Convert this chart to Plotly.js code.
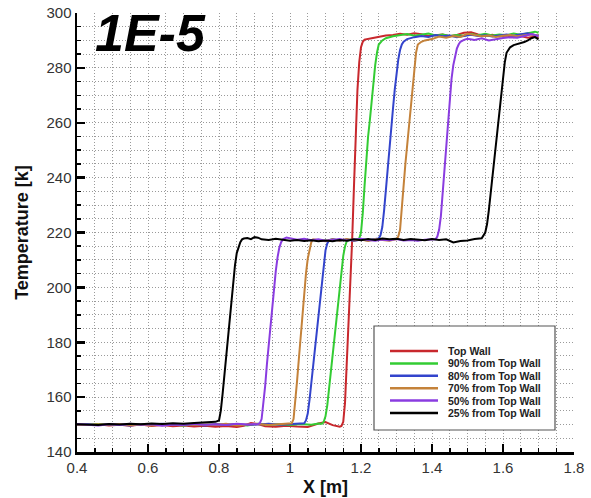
<!DOCTYPE html>
<html>
<head>
<meta charset="utf-8">
<script src="https://cdn.plot.ly/plotly-3.0.1.min.js"></script>
<style>html,body{margin:0;padding:0;background:#fff;}#chart{width:591px;height:498px;}</style>
</head>
<body>
<div id="chart"></div>
<script>
// ---------- DATA ----------
const seriesNames = ['Top Wall','90% from Top Wall','80% from Top Wall','70% from Top Wall','50% from Top Wall','25% from Top Wall'];
const seriesColors = ['#c8282d','#33cc33','#3344cc','#c4823a','#8a3ce0','#000000'];
const xTickVals = [0.4,0.6,0.8,1.0,1.2,1.4,1.6,1.8];
const yTickVals = [140,160,180,200,220,240,260,280,300];

const topWallX = [0.40,0.43,0.46,0.49,0.52,0.55,0.58,0.61,0.64,0.67,0.70,0.73,0.76,0.79,0.82,0.85,0.87,0.89,0.91,0.93,0.96,0.99,1.02,1.05,1.08,1.10,1.12,1.14,1.145,1.15,1.155,1.16,1.165,1.17,1.175,1.18,1.185,1.19,1.195,1.20,1.205,1.21,1.23,1.25,1.27,1.29,1.31,1.33,1.35,1.37,1.39,1.41,1.43,1.45,1.47,1.49,1.51,1.53,1.55,1.57,1.59,1.61,1.63,1.65,1.67,1.69,1.70];
const topWallY = [150.0,149.8,150.1,149.7,149.9,149.6,150.0,149.5,149.8,149.4,149.7,149.3,149.6,149.2,149.5,149.1,149.6,150.6,150.2,149.4,149.2,149.6,149.3,149.1,150.4,150.9,149.8,149.2,149.5,151,158,172,190,205,217,236,256,272,282,287.5,289.5,290.3,290.8,291.4,291.8,292.0,292.4,292.1,292.6,292.3,291.6,291.9,292.2,291.5,292.0,292.8,293.0,292.2,291.6,292.1,291.4,291.8,291.2,291.6,291.0,291.4,291.0];

const p90X = [0.40,0.43,0.46,0.49,0.52,0.55,0.58,0.61,0.64,0.67,0.70,0.73,0.76,0.79,0.82,0.85,0.88,0.91,0.94,0.97,1.00,1.03,1.06,1.08,1.09,1.095,1.10,1.105,1.11,1.115,1.12,1.125,1.13,1.135,1.14,1.145,1.15,1.155,1.16,1.17,1.18,1.19,1.195,1.20,1.205,1.21,1.215,1.22,1.225,1.23,1.235,1.24,1.245,1.25,1.26,1.27,1.29,1.31,1.33,1.35,1.37,1.39,1.41,1.43,1.45,1.47,1.49,1.51,1.53,1.55,1.57,1.59,1.61,1.63,1.65,1.67,1.69,1.70];
const p90Y = [150.1,149.9,150.2,150.0,149.8,150.1,149.9,150.2,149.8,150.0,149.7,150.1,149.9,150.2,149.8,150.0,149.7,150.3,149.9,150.1,149.8,150.2,149.9,150.4,150.3,151,153,157,163,170,176,182,188,195,201,207,211.5,215,216.8,217.4,217.1,217.6,217.8,220,227,237,247,255,261,268,275,281,285.5,288.5,290.0,290.8,291.5,291.9,292.3,291.7,292.0,292.5,291.8,292.2,291.6,292.0,291.7,292.3,291.9,292.4,291.8,292.2,291.9,292.5,292.1,292.6,293.2,292.8];

const p80X = [0.40,0.43,0.46,0.49,0.52,0.55,0.58,0.61,0.64,0.67,0.70,0.73,0.76,0.79,0.82,0.85,0.88,0.91,0.94,0.97,1.00,1.03,1.04,1.045,1.05,1.055,1.06,1.065,1.07,1.075,1.08,1.085,1.09,1.095,1.10,1.105,1.11,1.12,1.14,1.16,1.18,1.20,1.22,1.24,1.25,1.255,1.26,1.265,1.27,1.275,1.28,1.285,1.29,1.295,1.30,1.305,1.31,1.315,1.32,1.33,1.35,1.37,1.39,1.41,1.43,1.45,1.47,1.49,1.51,1.53,1.55,1.57,1.59,1.61,1.63,1.65,1.67,1.69,1.70];
const p80Y = [149.9,150.1,149.8,150.2,150.0,149.7,150.1,149.9,150.3,149.8,150.0,150.2,149.7,150.1,149.9,150.2,149.8,150.0,150.3,149.9,150.1,150.3,150.5,151.5,154,159,165,172,178,184,190,197,203,209,213.5,216,217.2,217.6,217.0,217.5,216.9,217.4,217.1,217.6,217.8,219,222,228,236,244,251,258,265,272,278,283,286.5,288.5,289.5,290.5,291.2,291.6,291.3,292.0,291.5,291.8,291.2,291.7,292.1,291.6,291.9,291.4,291.8,292.2,291.7,292.3,292.6,292.0,291.6];

const p70X = [0.40,0.43,0.46,0.49,0.52,0.55,0.58,0.61,0.64,0.67,0.70,0.73,0.76,0.79,0.82,0.85,0.88,0.91,0.94,0.97,1.00,1.005,1.01,1.015,1.02,1.025,1.03,1.035,1.04,1.045,1.05,1.055,1.06,1.065,1.08,1.10,1.12,1.14,1.16,1.18,1.20,1.22,1.24,1.26,1.28,1.30,1.305,1.31,1.315,1.32,1.325,1.33,1.335,1.34,1.345,1.35,1.355,1.36,1.37,1.38,1.40,1.42,1.44,1.46,1.48,1.50,1.52,1.54,1.56,1.58,1.60,1.62,1.64,1.66,1.68,1.70];
const p70Y = [150.0,149.8,150.1,149.9,150.2,149.8,150.0,149.7,150.1,149.9,150.2,149.8,150.0,149.9,150.3,149.7,150.0,150.2,149.8,150.1,150.2,150.5,152,158,166,174,182,190,198,205,210.5,214,216.5,217.5,217.2,216.8,217.5,217.0,217.6,217.1,217.4,216.9,217.5,217.2,217.0,217.6,218.5,221,228,237,245,252,258,264,272,280,285.5,288.5,289.5,290.0,290.5,291.4,291.0,291.6,291.3,292.4,292.0,291.5,291.8,291.3,291.7,292.0,291.5,291.9,292.2,291.8];

const p50X = [0.40,0.43,0.46,0.49,0.52,0.55,0.58,0.61,0.64,0.67,0.70,0.73,0.76,0.79,0.82,0.85,0.88,0.91,0.915,0.92,0.925,0.93,0.935,0.94,0.945,0.95,0.955,0.96,0.965,0.97,0.975,0.98,0.99,1.00,1.02,1.04,1.06,1.08,1.10,1.12,1.14,1.16,1.18,1.20,1.22,1.24,1.26,1.28,1.30,1.32,1.34,1.36,1.38,1.40,1.41,1.415,1.42,1.425,1.43,1.435,1.44,1.445,1.45,1.455,1.46,1.465,1.47,1.475,1.48,1.49,1.50,1.52,1.54,1.56,1.58,1.60,1.62,1.64,1.66,1.68,1.70];
const p50Y = [150.2,150.0,149.7,150.1,149.8,150.3,149.9,150.1,149.6,150.0,149.8,150.2,149.9,150.1,149.8,150.3,150.0,150.2,150.5,152,157,164,172,179,186,193,200,206,211,214.5,216.5,217.5,218.2,218.0,217.4,217.7,217.2,217.5,217.0,217.3,217.6,217.1,217.4,217.7,217.3,217.0,217.4,217.2,217.6,217.1,217.3,217.0,217.4,217.5,217.5,218.5,221,226,234,243,252,261,269,276,281,284.5,287,288.5,289.5,290.2,290.6,290.2,290.8,290.0,290.5,290.9,291.2,291.0,291.6,292.3,291.6];

const p25X = [0.40,0.43,0.46,0.49,0.52,0.55,0.58,0.61,0.64,0.67,0.70,0.73,0.76,0.78,0.79,0.80,0.805,0.81,0.815,0.82,0.825,0.83,0.835,0.84,0.845,0.85,0.855,0.86,0.865,0.87,0.88,0.89,0.90,0.91,0.92,0.94,0.96,0.98,1.00,1.02,1.04,1.06,1.08,1.10,1.12,1.14,1.16,1.18,1.20,1.22,1.24,1.26,1.28,1.30,1.32,1.34,1.36,1.38,1.40,1.42,1.44,1.46,1.48,1.50,1.52,1.54,1.55,1.555,1.56,1.565,1.57,1.575,1.58,1.585,1.59,1.595,1.60,1.605,1.61,1.62,1.63,1.64,1.65,1.66,1.67,1.68,1.69,1.70];
const p25Y = [150.1,150.0,149.8,150.2,150.0,150.3,150.1,150.4,150.2,150.5,150.3,150.6,150.7,150.9,151.0,151.5,155,161,168,175,181,188,195,202,208,212.5,215,216.5,217.5,217.8,218.0,217.6,218.3,218.1,217.5,217.3,217.7,217.4,217.0,217.3,216.9,217.2,216.8,217.1,216.8,217.3,217.0,217.5,217.2,217.6,217.3,217.8,217.5,217.7,217.3,217.6,217.4,217.2,217.6,217.3,217.5,216.4,216.9,217.1,217.6,217.9,220,223,228,234,240,246,252,259,266,272,277,282,285.5,287.5,288.3,288.6,289.0,289.4,290.0,290.8,291.2,290.4];

const seriesX = [topWallX, p90X, p80X, p70X, p50X, p25X];
const seriesY = [topWallY, p90Y, p80Y, p70Y, p50Y, p25Y];

// ---------- PLOT ----------
const FONT = 'Liberation Sans, Arial, sans-serif';
const L = 77, R = 574, T = 13, B = 452, W = 591, H = 498;
const px2x = p => (p - L) / (R - L);
const py2y = p => (B - p) / (B - T);

const traces = seriesNames.map((n, i) => ({
  type: 'scatter', mode: 'lines', name: n,
  x: seriesX[i], y: seriesY[i],
  line: {color: seriesColors[i], width: 2},
  showlegend: false
}));

const shapes = [{
  type: 'rect', xref: 'paper', yref: 'paper', layer: 'above',
  x0: px2x(374), x1: px2x(555), y0: py2y(430), y1: py2y(326),
  line: {color: '#555', width: 1.2}, fillcolor: '#ffffff'
}];
const annotations = [{
  xref: 'paper', yref: 'paper', x: px2x(93), y: py2y(33), xanchor: 'left', yanchor: 'middle',
  text: '1E-5', showarrow: false,
  font: {family: FONT, size: 52, weight: 'bold', style: 'italic', color: '#000'}
}];
seriesNames.forEach((n, i) => {
  const yy = 351 + 12.4 * i;
  shapes.push({type: 'line', xref: 'paper', yref: 'paper', layer: 'above',
    x0: px2x(390), x1: px2x(438), y0: py2y(yy), y1: py2y(yy),
    line: {color: seriesColors[i], width: 2.5}});
  annotations.push({xref: 'paper', yref: 'paper', x: px2x(446), y: py2y(yy),
    xanchor: 'left', yanchor: 'middle', text: n, showarrow: false,
    font: {family: FONT, size: 10.5, weight: 'bold', color: '#222'}});
});

const gridDash = '1px,2px';
const axisCommon = {
  ticks: 'inside', ticklen: 8, tickwidth: 2.5, tickcolor: '#000',
  showline: true, linewidth: 2.5, linecolor: '#000', mirror: false,
  showgrid: true, gridcolor: '#9a9a9a', gridwidth: 1, griddash: gridDash,
  zeroline: false,
  tickfont: {family: FONT, size: 15, color: '#333'}
};

const layout = {
  width: W, height: H,
  margin: {l: L, r: W - R, t: T, b: H - B},
  paper_bgcolor: '#fff', plot_bgcolor: '#fff',
  showlegend: false,
  xaxis: Object.assign({}, axisCommon, {
    range: [0.4, 1.8], tickvals: xTickVals,
    minor: {dtick: 0.05, tick0: 0.4, ticks: 'inside', ticklen: 4, tickwidth: 1.5, tickcolor: '#000',
      showgrid: true, gridcolor: '#9a9a9a', gridwidth: 1, griddash: gridDash},
    title: {text: 'X [m]', font: {family: FONT, size: 18, weight: 'bold', color: '#111'}, standoff: 6}
  }),
  yaxis: Object.assign({}, axisCommon, {
    range: [140, 300], tickvals: yTickVals,
    minor: {dtick: 5, tick0: 140, ticks: 'inside', ticklen: 4, tickwidth: 1.5, tickcolor: '#000',
      showgrid: true, gridcolor: '#9a9a9a', gridwidth: 1, griddash: gridDash},
    title: {text: 'Temperature [k]', font: {family: FONT, size: 18, weight: 'bold', color: '#111'}, standoff: 13}
  }),
  shapes: shapes,
  annotations: annotations
};

Plotly.newPlot('chart', traces, layout, {displayModeBar: false, staticPlot: true});
</script>
</body>
</html>
